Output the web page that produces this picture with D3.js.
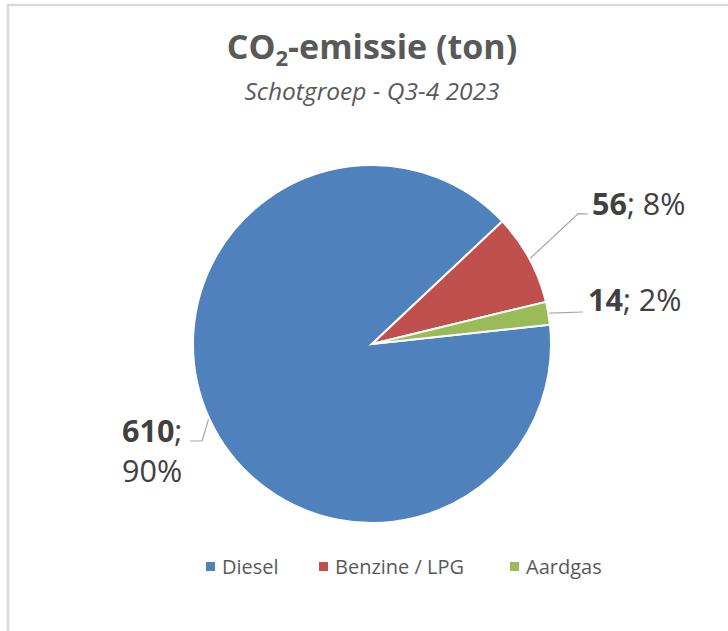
<!DOCTYPE html>
<html>
<head>
<meta charset="UTF-8">
<title>CO2-emissie</title>
<script src="https://cdn.jsdelivr.net/npm/d3@7"></script>
<style>
    body { margin: 0; background: #fff; }
    svg { display: block; font-family: "Open Sans", sans-serif; }
</style>
</head>
<body>
<svg id="chart" width="728" height="631"></svg>
<script>
    const categories = ["Diesel", "Benzine / LPG", "Aardgas"];
    const values = [610, 56, 14];
    const percentLabels = ["90%", "8%", "2%"];
    const colors = ["#4F81BD", "#C0504D", "#9BBB59"];

    const svg = d3.select('#chart');
    const cx = 372, cy = 344, radius = 179;

    // outer frame of the chart area (runs off the window right and bottom)
    svg.append('rect')
        .attr('x', 8).attr('y', 5)
        .attr('width', 760).attr('height', 700)
        .attr('fill', '#fff')
        .attr('stroke', '#d9d9d9')
        .attr('stroke-width', 2.5);

    // title
    const title = svg.append('text')
        .attr('x', 372).attr('y', 59)
        .attr('text-anchor', 'middle')
        .attr('fill', '#595959')
        .attr('font-size', 34)
        .attr('font-weight', 'bold');
    title.append('tspan').text('CO');
    title.append('tspan').attr('font-size', 22).attr('dy', 7).text('2');
    title.append('tspan').attr('dy', -7).text('-emissie (ton)');

    svg.append('text')
        .attr('x', 372).attr('y', 100)
        .attr('text-anchor', 'middle')
        .attr('fill', '#595959')
        .attr('font-size', 24.5)
        .attr('font-style', 'italic')
        .text('Schotgroep - Q3-4 2023');

    const startAngle = 83.8 * Math.PI / 180;
    const pie = d3.pie().sort(null)
        .startAngle(startAngle)
        .endAngle(startAngle + 2 * Math.PI);
    const arcs = pie(values);
    const arc = d3.arc().innerRadius(0).outerRadius(radius);

    const g = svg.append('g').attr('transform', `translate(${cx},${cy})`);
    g.selectAll('path.slice')
        .data(arcs)
        .join('path')
        .attr('class', 'slice')
        .attr('d', arc)
        .attr('fill', (d, i) => colors[i])
        .attr('stroke', '#fff')
        .attr('stroke-width', 2);

    // data labels with leader lines
    function polar(angle, r) {
        return [r * Math.sin(angle), -r * Math.cos(angle)];
    }
    const labelLayout = [
        {elbow: [-170, 97], end: [-182, 97], text: [-250, 98], anchor: 'start', twoLines: true},
        {elbowR: 244, elbowA: 57.7, end: [216, -130], text: [220, -129], anchor: 'start'},
        {end: [211, -32], text: [216, -33], anchor: 'start'}
    ];

    arcs.forEach((d, i) => {
        const mid = (d.startAngle + d.endAngle) / 2;
        const p0 = polar(mid, radius + 1);
        const L = labelLayout[i];
        const pts = [p0];
        if (L.elbow) pts.push(L.elbow);
        if (L.elbowR) pts.push(polar(L.elbowA * Math.PI / 180, L.elbowR));
        pts.push(L.end);
        g.append('path')
            .attr('d', d3.line()(pts))
            .attr('fill', 'none')
            .attr('stroke', '#a6a6a6')
            .attr('stroke-width', 1.2);

        const t = g.append('text')
            .attr('x', L.text[0]).attr('y', L.text[1])
            .attr('text-anchor', L.anchor)
            .attr('fill', '#404040')
            .attr('font-size', 30.5);
        t.append('tspan').attr('font-weight', 'bold').text(values[i]);
        if (L.twoLines) {
            t.append('tspan').text(';');
            t.append('tspan').attr('x', L.text[0]).attr('dy', 40).text(percentLabels[i]);
        } else {
            t.append('tspan').text('; ' + percentLabels[i]);
        }
    });

    // legend
    const legendX = [206, 319, 510];
    const legend = svg.append('g');
    categories.forEach((c, i) => {
        legend.append('rect')
            .attr('x', legendX[i]).attr('y', 562)
            .attr('width', 9).attr('height', 9)
            .attr('fill', colors[i]);
        legend.append('text')
            .attr('x', legendX[i] + 16).attr('y', 574)
            .attr('fill', '#595959')
            .attr('font-size', 20)
            .text(c);
    });
</script>
</body>
</html>
